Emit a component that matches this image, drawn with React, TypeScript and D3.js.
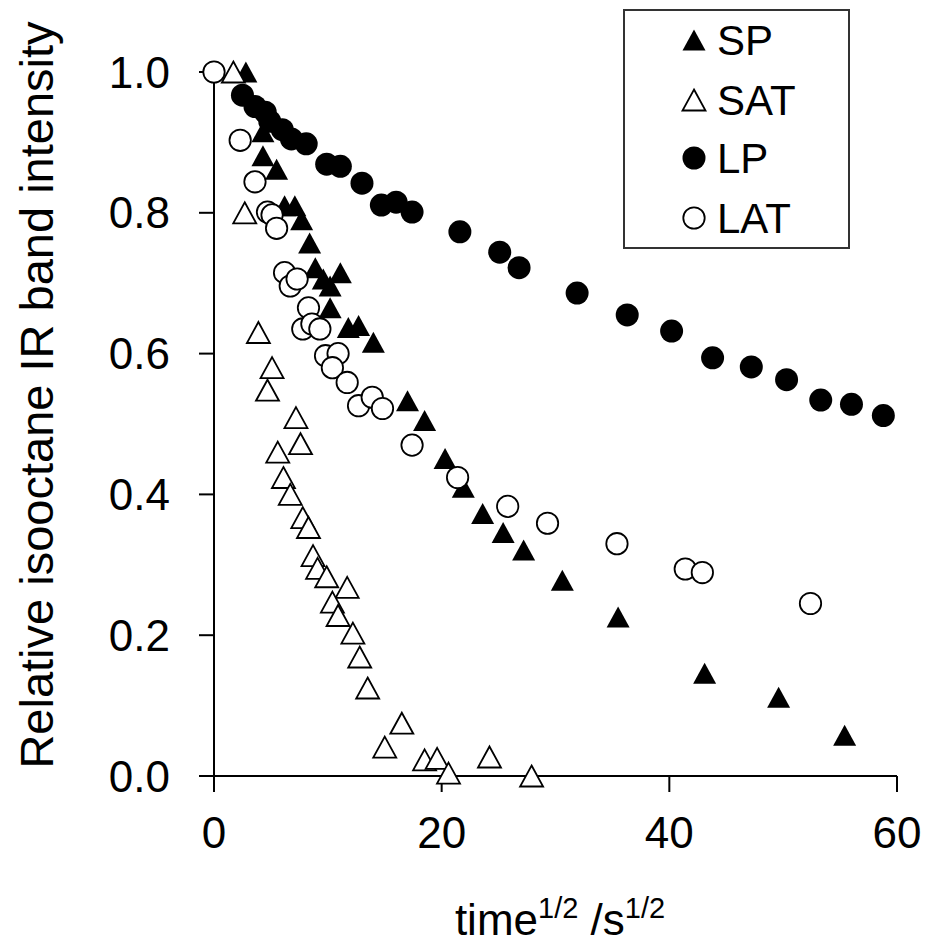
import * as d3 from 'd3'

// [time^1/2, relative intensity]
const spData: [number, number][] = [
  [2.8, 1.0], [4.3, 0.915], [4.3, 0.881], [5.5, 0.862], [6.2, 0.81], [7.1, 0.81],
  [7.7, 0.79], [8.4, 0.757], [8.9, 0.722], [9.6, 0.706], [10.2, 0.696], [11.1, 0.715],
  [10.2, 0.665], [11.8, 0.637], [12.7, 0.64], [14.0, 0.616], [17.0, 0.533], [18.5, 0.505],
  [20.3, 0.451], [21.9, 0.41], [23.6, 0.373], [25.4, 0.346], [27.2, 0.321], [30.6, 0.278],
  [35.5, 0.226], [43.1, 0.146], [49.6, 0.112], [55.4, 0.058],
]

const satData: [number, number][] = [
  [1.7, 1.0], [2.7, 0.8], [3.9, 0.63], [5.1, 0.58], [4.7, 0.548], [7.2, 0.509],
  [7.6, 0.472], [5.6, 0.46], [6.1, 0.424], [6.7, 0.4], [7.8, 0.367], [8.3, 0.353],
  [8.7, 0.313], [9.1, 0.295], [9.9, 0.283], [11.7, 0.268], [10.4, 0.247], [10.9, 0.228],
  [12.2, 0.203], [12.8, 0.169], [13.5, 0.125], [16.5, 0.075], [15.0, 0.041], [18.5, 0.023],
  [19.6, 0.025], [20.6, 0.004], [24.2, 0.027], [27.9, 0.0],
]

const lpData: [number, number][] = [
  [2.5, 0.967], [3.6, 0.951], [4.5, 0.943], [4.9, 0.93], [6.0, 0.918], [6.8, 0.905],
  [8.1, 0.898], [9.9, 0.869], [11.1, 0.866], [13.0, 0.842], [14.7, 0.811], [16.0, 0.815],
  [17.4, 0.801], [21.6, 0.773], [25.1, 0.744], [26.8, 0.722], [31.9, 0.686], [36.3, 0.655],
  [40.2, 0.632], [43.8, 0.594], [47.2, 0.581], [50.3, 0.563], [53.3, 0.534], [56.0, 0.528],
  [58.8, 0.512],
]

const latData: [number, number][] = [
  [0, 1.0], [2.3, 0.903], [3.6, 0.844], [4.7, 0.801], [5.1, 0.797], [5.5, 0.778],
  [6.2, 0.715], [6.7, 0.696], [7.3, 0.706], [8.3, 0.665], [7.8, 0.635], [8.6, 0.642],
  [9.3, 0.635], [9.8, 0.597], [10.9, 0.6], [10.4, 0.58], [11.7, 0.559], [12.7, 0.526],
  [13.9, 0.538], [14.8, 0.522], [17.4, 0.47], [21.4, 0.424], [25.8, 0.383], [29.3, 0.359],
  [35.4, 0.33], [41.4, 0.294], [42.9, 0.289], [52.4, 0.245],
]

const xTicks = [0, 20, 40, 60]
const yTicks = [0, 0.2, 0.4, 0.6, 0.8, 1.0]

const series = [
  { name: 'SP', shape: 'tri', filled: true, data: spData },
  { name: 'SAT', shape: 'tri', filled: false, data: satData },
  { name: 'LP', shape: 'circle', filled: true, data: lpData },
  { name: 'LAT', shape: 'circle', filled: false, data: latData },
]

const W = 930
const H = 949
const FONT = '"Liberation Sans", Arial, sans-serif'

const x = d3.scaleLinear().domain([0, 60]).range([214, 897])
const y = d3.scaleLinear().domain([0, 1]).range([776, 72])

const TRI_W = 23
const TRI_H = 21
const R = 11.5

function Marker({ shape, filled, cx, cy }: { shape: string; filled: boolean; cx: number; cy: number }) {
  const fill = filled ? '#000' : '#fff'
  if (shape === 'circle') {
    return <circle cx={cx} cy={cy} r={filled ? R : R - 0.8} fill={fill} stroke="#000" strokeWidth={filled ? 0 : 1.8} />
  }
  // triangle, centred on its bounding box
  const path = d3.path()
  path.moveTo(cx, cy - TRI_H / 2)
  path.lineTo(cx + TRI_W / 2, cy + TRI_H / 2)
  path.lineTo(cx - TRI_W / 2, cy + TRI_H / 2)
  path.closePath()
  return <path d={path.toString()} fill={fill} stroke="#000" strokeWidth={filled ? 0 : 1.8} />
}

export default function App() {
  const legendRows = [40, 100, 158, 218]
  return (
    <svg width={W} height={H} style={{ position: 'absolute', left: 0, top: 0, background: '#fff' }} fontFamily={FONT}>
      {/* axes */}
      <line x1={x(0)} x2={x(0)} y1={y(1)} y2={y(0)} stroke="#000" strokeWidth={2} />
      <line x1={x(0) - 15} x2={x(60)} y1={y(0)} y2={y(0)} stroke="#000" strokeWidth={2} />
      {yTicks.map(t => (
        <g key={'y' + t}>
          <line x1={x(0) - 15} x2={x(0)} y1={y(t)} y2={y(t)} stroke="#000" strokeWidth={2} />
          <text x={170} y={y(t)} textAnchor="end" dominantBaseline="central" fontSize={44}>
            {t.toFixed(1)}
          </text>
        </g>
      ))}
      {xTicks.map(t => (
        <g key={'x' + t}>
          <line x1={x(t)} x2={x(t)} y1={y(0)} y2={y(0) + 16} stroke="#000" strokeWidth={2} />
          <text x={x(t)} y={848} textAnchor="middle" fontSize={44}>
            {t}
          </text>
        </g>
      ))}

      {/* data */}
      {series.map(s => (
        <g key={s.name}>
          {s.data.map((d, i) => (
            <Marker key={i} shape={s.shape} filled={s.filled} cx={x(d[0])} cy={y(d[1])} />
          ))}
        </g>
      ))}

      {/* axis titles */}
      <text x={560} y={935} textAnchor="middle" fontSize={44}>
        time<tspan fontSize={29} dy={-17}>1/2</tspan>
        <tspan dy={17}> /s</tspan>
        <tspan fontSize={29} dy={-17}>1/2</tspan>
      </text>
      <text transform="translate(53,395) rotate(-90)" textAnchor="middle" fontSize={47}>
        Relative isooctane IR band intensity
      </text>

      {/* legend */}
      <rect x={624} y={10} width={225} height={238} fill="#fff" stroke="#333" strokeWidth={2} />
      {series.map((s, i) => (
        <g key={'lg' + s.name}>
          <Marker shape={s.shape} filled={s.filled} cx={694} cy={legendRows[i]} />
          <text x={717} y={legendRows[i]} dominantBaseline="central" fontSize={42}>
            {s.name}
          </text>
        </g>
      ))}
    </svg>
  )
}
